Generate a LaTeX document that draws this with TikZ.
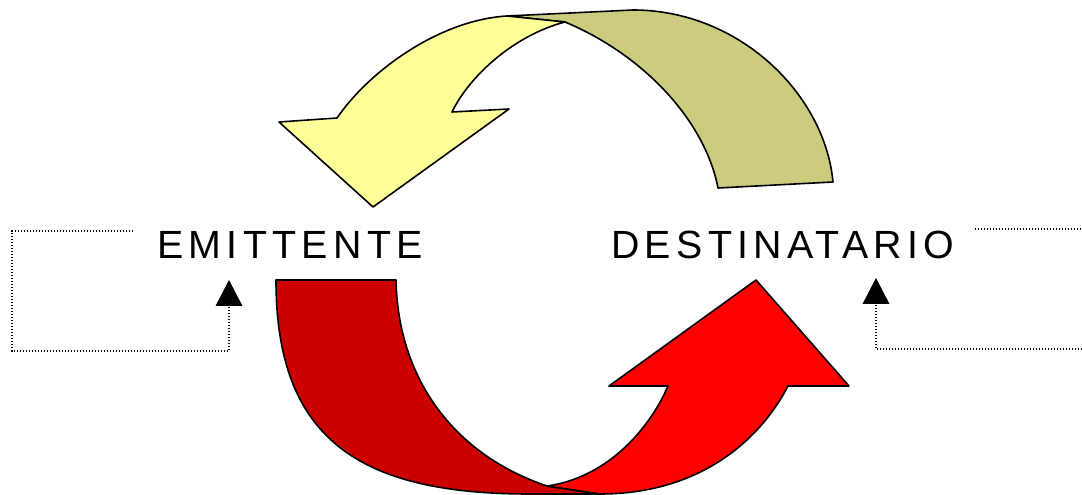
\documentclass[tikz,border=0pt]{standalone}
\usepackage{fontspec}
\setmainfont{Liberation Sans}
\usetikzlibrary{arrows.meta}
\definecolor{CycleYellow}{HTML}{FFFF99}
\definecolor{CycleOlive}{HTML}{CCCC7F}
\definecolor{CycleDark}{HTML}{CC0000}
\definecolor{CycleRed}{HTML}{FF0000}
\tikzset{
  every node/.style={font=\fontsize{29.5}{34}\selectfont\addfontfeature{LetterSpace=13.5}, text=black},
  ribbon/.style={draw=black, line width=1.2pt, line join=round},
  feedback/.style={draw=black, line width=0.9pt, dash pattern=on 0.9pt off 1.35pt},
  feedtip/.style={-{Triangle[length=19.5pt,width=20pt]}},
}

\begin{document}
\begin{tikzpicture}[x=0.75pt,y=-0.75pt]
  \useasboundingbox (0,0) rectangle (1082,495);
  % Top ribbon: back face first, then the front face with its head
  \path[ribbon, fill=CycleOlive] (507,16) -- (633,10)
    .. controls (740,10) and (825,95) .. (833,182) -- (718,188)
    .. controls (705,121) and (644,55) .. (565,22) -- cycle;
  \path[ribbon, fill=CycleYellow] (507,16)
    .. controls (440,20) and (370,70) .. (337,118) -- (279,122) -- (373,207)
    -- (509,109) -- (452,112) .. controls (470,75) and (515,35) .. (565,22) -- cycle;
  % Bottom ribbon: tail, then the head on top
  \path[ribbon, fill=CycleDark] (276,280) -- (396,280)
    .. controls (398,380) and (455,455) .. (547,486) -- (600,494) -- (530,494)
    .. controls (360,494) and (276,440) .. (276,280) -- cycle;
  \path[ribbon, fill=CycleRed] (547,486)
    .. controls (605,478) and (648,432) .. (668,386) -- (609,386) -- (756,280)
    -- (849,386) -- (788,386) .. controls (760,440) and (700,494) .. (600,494) -- cycle;
  % Labels
  \node[anchor=base west, inner sep=0] (emittente) at (157,259) {EMITTENTE};
  \node[anchor=base west, inner sep=0] (destinatario) at (611,259) {DESTINATARIO};
  % Feedback loops
  \coordinate (emitloop) at (133,231);
  \coordinate (emitin) at (229,280);
  \draw[feedback, feedtip] (emitloop) -- (12,231) -- (12,351) -- (229,351) -- (emitin);
  \coordinate (destloop) at (975,229);
  \coordinate (destin) at (876,278);
  \draw[feedback] (destloop) -- (1082,229);
  \draw[feedback, feedtip] (1082,349) -- (876,349) -- (destin);
\end{tikzpicture}
\end{document}
